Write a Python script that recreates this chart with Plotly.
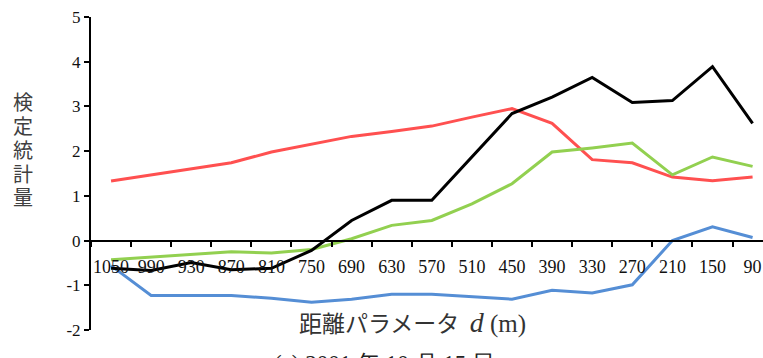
import plotly.graph_objects as go

categories = ["1050", "990", "930", "870", "810", "750", "690", "630", "570",
              "510", "450", "390", "330", "270", "210", "150", "90"]
black_vals = [-0.62, -0.67, -0.49, -0.65, -0.62, -0.22, 0.45, 0.90, 0.90,
              1.87, 2.84, 3.21, 3.65, 3.09, 3.13, 3.89, 2.62]
red_vals = [1.33, 1.47, 1.61, 1.74, 1.98, 2.16, 2.33, 2.44, 2.56,
            2.76, 2.95, 2.62, 1.81, 1.74, 1.42, 1.34, 1.42]
green_vals = [-0.43, -0.37, -0.30, -0.25, -0.28, -0.20, 0.04, 0.34, 0.45,
              0.82, 1.27, 1.98, 2.07, 2.18, 1.47, 1.87, 1.66]
blue_vals = [-0.56, -1.23, -1.23, -1.23, -1.29, -1.38, -1.31, -1.20, -1.20,
             -1.26, -1.31, -1.11, -1.17, -0.99, 0.00, 0.31, 0.07]
y_ticks = [-2, -1, 0, 1, 2, 3, 4, 5]
y_tick_labels = ["-2", "-1", "0", "1", "2", "3", "4", "5"]
y_title_chars = ["検", "定", "統", "計", "量"]

series = [
    (blue_vals, "#558ED5"),
    (red_vals, "#FF5050"),
    (green_vals, "#92D050"),
    (black_vals, "#000000"),
]

fig = go.Figure()
for vals, col in series:
    fig.add_trace(go.Scatter(x=categories, y=vals, mode="lines",
                             line=dict(color=col, width=3), showlegend=False))

SERIF = "Liberation Serif, Times New Roman, serif"
CJK = "Noto Sans CJK JP"

W, H = 763, 358
ml, mr, mt, mb = 91, 0, 17, 28
plot_h = H - mt - mb

fig.update_layout(
    width=W, height=H,
    margin=dict(l=ml, r=mr, t=mt, b=mb, autoexpand=False),
    paper_bgcolor="white", plot_bgcolor="white",
    xaxis=dict(
        type="category", range=[-0.5, 16.26],
        anchor="free", position=2 / 7, automargin=False,
        showline=True, linecolor="black", linewidth=2,
        ticks="outside", tickson="boundaries", ticklen=5, tickwidth=1.5, tickcolor="black",
        showgrid=False, zeroline=False, tickangle=0, ticklabelstandoff=10,
        tickfont=dict(family=SERIF, size=18, color="#111"),
    ),
    yaxis=dict(
        range=[-2, 5], tickvals=y_ticks, ticktext=y_tick_labels, automargin=False,
        showline=True, linecolor="black", linewidth=2,
        ticks="outside", ticklen=5, tickwidth=1.5, tickcolor="black",
        showgrid=False, zeroline=False,
        tickfont=dict(family=SERIF, size=17, color="#111"),
    ),
)

def py(pix):
    return (H - mb - pix) / plot_h

plot_w = W - ml - mr
def px(pix):
    return (pix - ml) / plot_w

for i, ch in enumerate(y_title_chars):
    fig.add_annotation(text=ch, xref="paper", yref="paper",
                       x=px(23), y=py(101 + 24 * i), xanchor="center", yanchor="middle",
                       showarrow=False, font=dict(family=CJK, size=20, color="#404040"))

fig.add_annotation(
    text=("距離パラメータ&nbsp;&nbsp;"
          "<span style='font-family:Liberation Serif;font-size:28px'><i>d</i></span>"
          "<span style='font-family:Liberation Serif;font-size:25px'>&nbsp;(m)</span>"),
    xref="paper", yref="paper", x=px(297), y=py(322),
    xanchor="left", yanchor="middle", showarrow=False,
    font=dict(family=CJK, size=23, color="#333"))

fig.add_annotation(
    text="(c) 2001 年 10 月 15 日",
    xref="paper", yref="paper", x=px(272), y=py(363),
    xanchor="left", yanchor="middle", showarrow=False,
    font=dict(family=SERIF, size=23, color="#222"))

fig.write_html("out.html", config={"displayModeBar": False},
               post_script="document.body.style.margin='0';document.body.style.overflow='hidden';")
